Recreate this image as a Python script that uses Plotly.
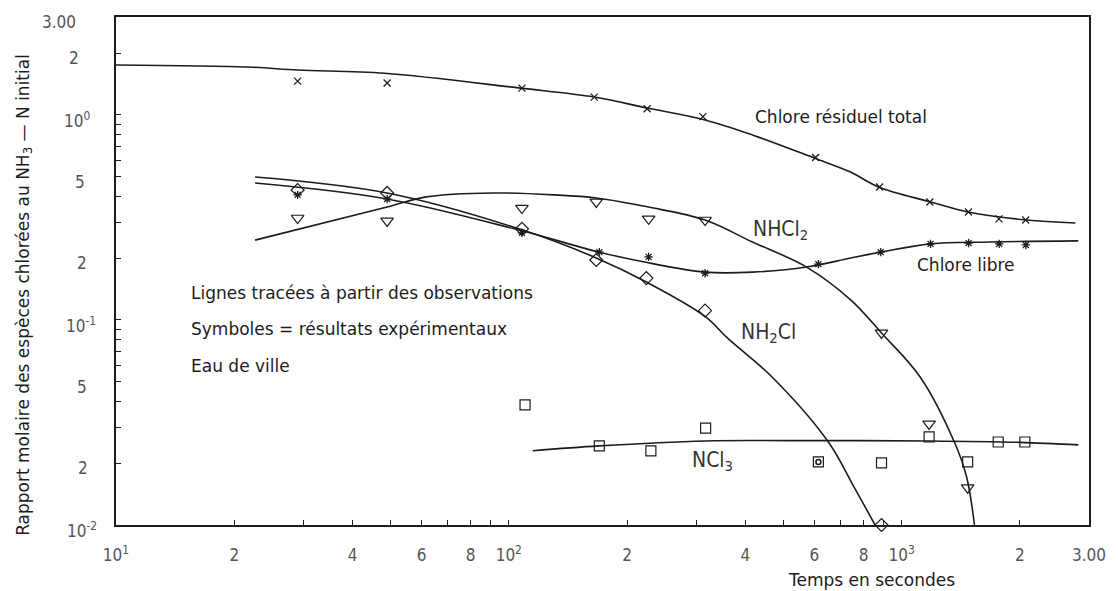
import math
import plotly.graph_objects as go

# ---------------- data (temps en s, rapport molaire) ----------------
# Chlore résiduel total
total_t = [29, 49, 108, 165, 225, 312, 604, 879, 1180, 1480, 1770, 2070]
total_r = [1.46, 1.43, 1.35, 1.22, 1.07, 0.98, 0.62, 0.445, 0.376, 0.336, 0.311, 0.307]
total_fit_t = [10, 21.7, 29, 48.3, 107, 165, 225, 316, 417, 599, 741, 873, 1185, 1477, 2077, 2770]
total_fit_r = [1.75, 1.71, 1.654, 1.595, 1.35, 1.222, 1.08, 0.944, 0.798, 0.616, 0.526, 0.445, 0.376, 0.336, 0.307, 0.297]

# Chlore libre
libre_t = [29, 49, 108, 170, 227, 316, 614, 885, 1185, 1481, 1772, 2072]
libre_r = [0.407, 0.389, 0.266, 0.214, 0.203, 0.169, 0.187, 0.214, 0.235, 0.237, 0.235, 0.232]
libre_fit_t = [22.6, 49, 108, 170, 220, 316, 417, 573, 743, 885, 1185, 1672, 2817]
libre_fit_r = [0.465, 0.389, 0.272, 0.214, 0.192, 0.171, 0.171, 0.181, 0.2005, 0.214, 0.235, 0.240, 0.243]

# NH2Cl
nh2cl_t = [29, 49, 108, 167, 224, 316, 889]
nh2cl_r = [0.430, 0.416, 0.278, 0.196, 0.160, 0.111, 0.0100]
nh2cl_fit_t = [22.6, 49, 108, 167, 224, 316, 360, 468, 651, 757, 856]
nh2cl_fit_r = [0.498, 0.416, 0.275, 0.2005, 0.153, 0.104, 0.0817, 0.0527, 0.0254, 0.0153, 0.0100]

# NHCl2
nhcl2_t = [29, 49, 108, 167, 227, 316, 889, 1175, 1473]
nhcl2_r = [0.314, 0.304, 0.351, 0.376, 0.311, 0.307, 0.0864, 0.0311, 0.0152]
nhcl2_fit_t = [22.6, 49, 61.6, 90.8, 131, 167, 227, 316, 417, 573, 743, 889, 1115, 1366, 1464, 1533]
nhcl2_fit_r = [0.245, 0.355, 0.398, 0.416, 0.407, 0.393, 0.355, 0.307, 0.240, 0.181, 0.125, 0.0864, 0.0527, 0.0251, 0.01715, 0.0100]

# NCl3
ncl3_t = [110, 170, 230, 317, 614, 889, 1175, 1473, 1762, 2060]
ncl3_r = [0.0385, 0.0243, 0.0230, 0.0297, 0.0203, 0.0201, 0.0269, 0.0203, 0.0254, 0.0254]
ncl3_fit_t = [115, 170, 317, 525, 1175, 2000, 2817]
ncl3_fit_r = [0.0230, 0.0243, 0.0257, 0.0258, 0.0257, 0.0253, 0.0246]
# point doublé (cercle dans le carré)
double_t = [614]
double_r = [0.0203]

# ---------------- axes ----------------
x_tick_values = [10, 20, 40, 60, 80, 100, 200, 400, 600, 800, 1000, 2000, 3000]
x_tick_labels = ["10<sup>1</sup>", "2", "4", "6", "8",
                 "10<sup>2</sup>", "2", "4", "6", "8",
                 "10<sup>3</sup>", "2", "3.00"]
x_minor_values = [30, 50, 70, 90, 300, 500, 700, 900]
y_label_values = [3, 2, 1, 0.5, 0.2, 0.1, 0.05, 0.02, 0.01]
y_label_texts = ["3.00", "2", "10<sup>0</sup>", "5", "2", "10<sup>-1</sup>", "5", "2", "10<sup>-2</sup>"]
y_minor_values = [0.03, 0.04, 0.06, 0.07, 0.08, 0.09,
                  0.3, 0.4, 0.6, 0.7, 0.8, 0.9]
y_label_left_px = [39, 67, 62, 73, 75, 64, 75, 76, 65]

W, H = 1118, 591
L, R, T, B = 116, 1098, 17, 525

INK = "#1c1c1c"
NARROW = "Liberation Sans Narrow, DejaVu Sans Condensed, Liberation Sans, sans-serif"
SANS = "DejaVu Sans, Liberation Sans, sans-serif"


def paper_x(px):
    return (px - L) / (R - L)


def paper_y(py):
    return (B - py) / (B - T)


fig = go.Figure()


def add_curve(t, r):
    fig.add_trace(go.Scatter(
        x=t, y=r, mode="lines", hoverinfo="skip",
        line=dict(color=INK, width=1.6, shape="spline", smoothing=1.0)))


def add_points(t, r, symbol, size, width=1.2):
    fig.add_trace(go.Scatter(
        x=t, y=r, mode="markers", cliponaxis=False,
        marker=dict(symbol=symbol, size=size, color=INK,
                    line=dict(color=INK, width=width))))


add_curve(total_fit_t, total_fit_r)
add_curve(libre_fit_t, libre_fit_r)
add_curve(nh2cl_fit_t, nh2cl_fit_r)
add_curve(nhcl2_fit_t, nhcl2_fit_r)
add_curve(ncl3_fit_t, ncl3_fit_r)

add_points(total_t, total_r, "x-thin", 7, 1.3)
add_points(libre_t, libre_r, "asterisk", 7, 1.3)
add_points(nh2cl_t, nh2cl_r, "diamond-open", 10)
add_points(nhcl2_t, nhcl2_r, "triangle-down-open", 11)
add_points(ncl3_t, ncl3_r, "square-open", 10)
add_points(double_t, double_r, "circle-open", 5, 1.5)

axis_common = dict(
    type="log", showline=True, mirror=True, linecolor=INK, linewidth=1.5,
    showgrid=False, zeroline=False, ticks="inside", ticklen=5,
    tickcolor=INK, tickwidth=1,
)

fig.update_xaxes(
    range=[1, math.log10(3000)], tickvals=x_tick_values, ticktext=x_tick_labels,
    tickfont=dict(family=NARROW, size=17, color="#555555"),
    ticklabelstandoff=14,
    minor=dict(tickvals=x_minor_values, ticks="inside", ticklen=5,
               tickcolor=INK, tickwidth=1, showgrid=False),
    **axis_common)
fig.update_yaxes(
    range=[-2, math.log10(3)], tickvals=y_label_values, showticklabels=False,
    minor=dict(tickvals=y_minor_values, ticks="inside", ticklen=5,
               tickcolor=INK, tickwidth=1, showgrid=False),
    **axis_common)

annotations = []
for val, txt, left in zip(y_label_values, y_label_texts, y_label_left_px):
    annotations.append(dict(
        x=paper_x(left), xref="paper", xanchor="left",
        y=math.log10(val), yref="y", yanchor="middle", yshift=-5,
        text=txt, showarrow=False,
        font=dict(family=NARROW, size=17, color="#555555")))

labels = [
    ("Chlore résiduel total", 759, 117, SANS, 17, INK),
    ("NHCl<sub>2</sub>", 757, 230, NARROW, 21, "#333333"),
    ("Chlore libre", 922, 265, SANS, 17, INK),
    ("NH<sub>2</sub>Cl", 745, 333, NARROW, 21, "#333333"),
    ("NCl<sub>3</sub>", 695, 461, NARROW, 21, "#333333"),
    ("Lignes tracées à partir des observations", 190, 293, SANS, 17, INK),
    ("Symboles = résultats expérimentaux", 190, 329, SANS, 17, INK),
    ("Eau de ville", 190, 366, SANS, 17, INK),
]
for txt, lx, cy, fam, size, col in labels:
    annotations.append(dict(
        x=paper_x(lx), y=paper_y(cy), xref="paper", yref="paper",
        xanchor="left", yanchor="middle", text=txt, showarrow=False,
        font=dict(family=fam, size=size, color=col)))

annotations.append(dict(
    x=paper_x(878), y=paper_y(580), xref="paper", yref="paper",
    xanchor="center", yanchor="middle", text="Temps en secondes",
    showarrow=False, font=dict(family=SANS, size=17, color=INK)))
annotations.append(dict(
    x=paper_x(23), y=paper_y(295), xref="paper", yref="paper",
    xanchor="center", yanchor="middle", textangle=-90,
    text="Rapport molaire des espèces chlorées au NH<sub>3</sub> — N initial",
    showarrow=False, font=dict(family=SANS, size=17, color=INK)))

fig.update_layout(
    width=W, height=H,
    margin=dict(l=L, r=W - R, t=T, b=H - B),
    plot_bgcolor="white", paper_bgcolor="white",
    showlegend=False, annotations=annotations,
)

fig.write_html("out.html")
